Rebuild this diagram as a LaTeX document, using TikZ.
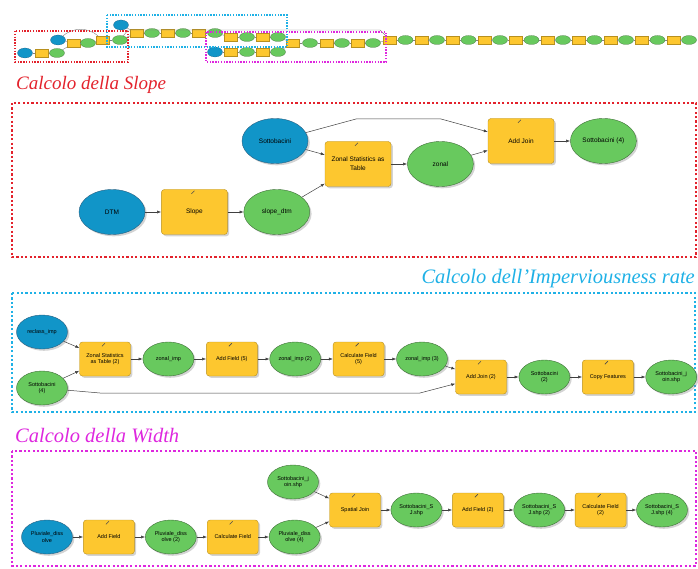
\documentclass[tikz,border=0pt]{standalone}
\usepackage{fontspec}
\usepackage{xcolor}
\usetikzlibrary{shapes.geometric,arrows.meta,positioning,shadows}
\newfontfamily\titlefont{Liberation Serif}
\newfontfamily\boxfont{Liberation Sans}
\definecolor{toolyellow}{HTML}{FDC72F}
\definecolor{tooledge}{HTML}{B8901E}
\definecolor{datagreen}{HTML}{68C95E}
\definecolor{dataedge}{HTML}{3F6E38}
\definecolor{inputblue}{HTML}{1195C8}
\definecolor{inputedge}{HTML}{2A5F80}
\definecolor{slopered}{HTML}{E3222C}
\definecolor{impcyan}{HTML}{1FB1E6}
\definecolor{widthmag}{HTML}{DE27DE}
\definecolor{linkgray}{HTML}{404040}

\begin{document}
\begin{tikzpicture}[x=1pt, y=-1pt, >={Latex[length=4pt,width=3pt]},
    boxshadow/.style={drop shadow={shadow xshift=1.8pt, shadow yshift=-1.8pt, opacity=0.35}},
    tool/.style={rectangle, draw=tooledge, fill=toolyellow, rounded corners=3pt, align=center, inner sep=1pt, boxshadow},
    data/.style={ellipse, draw=dataedge, fill=datagreen, align=center, inner sep=0pt, boxshadow},
    inputdata/.style={ellipse, draw=inputedge, fill=inputblue, align=center, inner sep=0pt, boxshadow},
    bigbox/.style={minimum width=66pt, minimum height=45pt, font=\boxfont\fontsize{6.5}{9}\selectfont},
    smallbox/.style={minimum width=51pt, minimum height=34pt, font=\boxfont\fontsize{5.5}{6.6}\selectfont},
    flow/.style={->, draw=linkgray, line width=0.5pt},
    icon/.style={draw=gray!60!black, line width=0.6pt},
    groupframe/.style={line width=2.2pt, dash pattern=on 2.2pt off 2.2pt},
    sectiontitle/.style={inner sep=0pt, font=\titlefont\itshape\fontsize{20.5}{24}\selectfont},
    minitool/.style={rectangle, fill=toolyellow, draw=tooledge, line width=0.2pt, minimum width=13pt, minimum height=8pt, inner sep=0pt},
    minidata/.style={ellipse, fill=datagreen, draw=dataedge, line width=0.2pt, minimum width=15pt, minimum height=9pt, inner sep=0pt},
    miniinput/.style={ellipse, fill=inputblue, draw=inputedge, line width=0.2pt, minimum width=15pt, minimum height=10pt, inner sep=0pt},
    minilink/.style={draw=gray, line width=0.4pt},
    miniframe/.style={line width=1.4pt, dash pattern=on 1.4pt off 1.4pt}]
    \useasboundingbox (0,0) rectangle (698,569);

    % overview of the whole model
    \node[miniinput] (m1) at (25,53) {};
    \node[minitool] (m2) at (42,53) {};
    \node[minidata] (m3) at (57,53) {};
    \node[miniinput] (m4) at (58,40) {};
    \node[minitool] (m5) at (74,43) {};
    \node[minidata] (m6) at (88,43) {};
    \node[minitool] (m7) at (103,40) {};
    \node[minidata] (m8) at (120,40) {};
    \node[miniinput] (m9) at (121,25) {};
    \node[minitool] (m10) at (137,33) {};
    \node[minidata] (m11) at (152,33) {};
    \node[minitool] (m12) at (168,33) {};
    \node[minidata] (m13) at (183,33) {};
    \node[minitool] (m14) at (199,33) {};
    \node[minidata] (m15) at (215,33) {};
    \node[minitool] (m16) at (231,37) {};
    \node[minidata] (m17) at (247,37) {};
    \node[minitool] (m18) at (263,37) {};
    \node[minidata] (m19) at (278,37) {};
    \node[miniinput] (m20) at (215,52) {};
    \node[minitool] (m21) at (231,52) {};
    \node[minidata] (m22) at (247,52) {};
    \node[minitool] (m23) at (263,52) {};
    \node[minidata] (m24) at (278,52) {};
    \node[minitool] (m25) at (293,43) {};
    \node[minidata] (m26) at (310,43) {};
    \node[minitool] (m27) at (327,43) {};
    \node[minidata] (m28) at (342,43) {};
    \node[minitool] (m29) at (358,43) {};
    \node[minidata] (m30) at (373,43) {};
    \foreach \i in {0,...,9} {
        \node[minitool] (r\i) at ({390+31.5*\i},40) {};
        \node[minidata] (g\i) at ({405.5+31.5*\i},40) {};
        \draw[minilink] (r\i) -- (g\i);
    }
    \foreach \i [count=\j] in {0,...,8}
        \draw[minilink] (g\i) -- (r\j);
    \foreach \a/\b in {m1/m2, m2/m3, m3/m5, m4/m5, m5/m6, m6/m7, m7/m8, m9/m10, m8/m10,
        m10/m11, m11/m12, m12/m13, m13/m14, m14/m15, m15/m16, m16/m17, m17/m18, m18/m19,
        m20/m21, m21/m22, m22/m23, m23/m24, m24/m25, m19/m25, m25/m26, m26/m27, m27/m28,
        m28/m29, m29/m30, m30/r0}
        \draw[minilink] (\a) -- (\b);
    \draw[minilink] (m4) to[out=40, in=140] (m7);
    \coordinate (mA) at (128,30);
    \coordinate (mB) at (380,30);
    \draw[minilink] (m8) -- (mA) -- (mB) -- (r0);
    \draw[slopered, miniframe] (15,31) rectangle (128,62);
    \draw[impcyan, miniframe] (107,15) rectangle (287,47);
    \draw[widthmag, miniframe] (206,32) rectangle (386,62);

    % Calcolo della Slope
    \node[sectiontitle, text=slopered, anchor=base west, font=\titlefont\itshape\fontsize{19}{22}\selectfont] (titleslope) at (16,90) {Calcolo della Slope};
    \draw[slopered, groupframe] (12,103) rectangle (696,257);
    \node[inputdata, bigbox] (dtm) at (112,212) {DTM};
    \node[tool, bigbox, right=16pt of dtm] (slope) {Slope};
    \node[data, bigbox, right=16pt of slope] (slopedtm) {slope\_dtm};
    \node[inputdata, bigbox] (sott) at (275,141) {Sottobacini};
    \node[tool, bigbox] (zonalst) at (358,164) {Zonal Statistics as\\Table};
    \node[data, bigbox, right=16pt of zonalst] (zonal) {zonal};
    \node[tool, bigbox] (addjoin) at (521,141) {Add Join};
    \node[data, bigbox, right=16pt of addjoin] (sott4) {Sottobacini (4)};
    \coordinate (bendA) at (356,119);
    \coordinate (bendB) at (441,119);
    \draw[flow] (dtm) -- (slope);
    \draw[flow] (slope) -- (slopedtm);
    \draw[flow] (slopedtm) -- (zonalst);
    \draw[flow] (sott) -- (zonalst);
    \draw[flow] (zonalst) -- (zonal);
    \draw[flow] (zonal) -- (addjoin);
    \draw[flow] (sott) -- (bendA) -- (bendB) -- (addjoin);
    \draw[flow] (addjoin) -- (sott4);

    % Calcolo dell'Imperviousness rate
    \node[sectiontitle, text=impcyan, anchor=base east] (titleimp) at (695,283) {Calcolo dell’Imperviousness rate};
    \draw[impcyan, groupframe] (12,293) rectangle (695,412);
    \node[inputdata, smallbox] (reclass) at (42,332) {reclass\_imp};
    \node[data, smallbox] (sotb4) at (42,388) {Sottobacini\\(4)};
    \node[tool, smallbox] (zst2) at (105,359) {Zonal Statistics\\as Table (2)};
    \node[data, smallbox, right=12pt of zst2] (zimp) {zonal\_imp};
    \node[tool, smallbox, right=12pt of zimp] (af5) {Add Field (5)};
    \node[data, smallbox, right=12pt of af5] (zimp2) {zonal\_imp (2)};
    \node[tool, smallbox, right=12pt of zimp2] (cf5) {Calculate Field\\(5)};
    \node[data, smallbox, right=12pt of cf5] (zimp3) {zonal\_imp (3)};
    \node[tool, smallbox] (aj2) at (481,377) {Add Join (2)};
    \node[data, smallbox, right=12pt of aj2] (sotb2) {Sottobacini\\(2)};
    \node[tool, smallbox, right=12pt of sotb2] (copyf) {Copy Features};
    \node[data, smallbox, right=12pt of copyf] (sjoin) {Sottobacini\_j\\oin.shp};
    \coordinate (lowA) at (100,393);
    \coordinate (lowB) at (420,393);
    \draw[flow] (reclass) -- (zst2);
    \draw[flow] (sotb4) -- (zst2);
    \draw[flow] (zst2) -- (zimp);
    \draw[flow] (zimp) -- (af5);
    \draw[flow] (af5) -- (zimp2);
    \draw[flow] (zimp2) -- (cf5);
    \draw[flow] (cf5) -- (zimp3);
    \draw[flow] (zimp3) -- (aj2);
    \draw[flow] (sotb4) -- (lowA) -- (lowB) -- (aj2);
    \draw[flow] (aj2) -- (sotb2);
    \draw[flow] (sotb2) -- (copyf);
    \draw[flow] (copyf) -- (sjoin);

    % Calcolo della Width
    \node[sectiontitle, text=widthmag, anchor=base west] (titlewidth) at (15,442) {Calcolo della Width};
    \draw[widthmag, groupframe] (12,451) rectangle (696,566);
    \node[inputdata, smallbox] (pluv) at (47,537) {Pluviale\_diss\\olve};
    \node[tool, smallbox, right=10.5pt of pluv] (af) {Add Field};
    \node[data, smallbox, right=10.5pt of af] (pluv2) {Pluviale\_diss\\olve (2)};
    \node[tool, smallbox, right=10.5pt of pluv2] (cf) {Calculate Field};
    \node[data, smallbox, right=10.5pt of cf] (pluv4) {Pluviale\_diss\\olve (4)};
    \node[data, smallbox] (sjshp) at (293,482) {Sottobacini\_j\\oin.shp};
    \node[tool, smallbox] (spj) at (355,510) {Spatial Join};
    \node[data, smallbox, right=10pt of spj] (sj1) {Sottobacini\_S\\J.shp};
    \node[tool, smallbox, right=10pt of sj1] (af2) {Add Field (2)};
    \node[data, smallbox, right=10pt of af2] (sj2) {Sottobacini\_S\\J.shp (2)};
    \node[tool, smallbox, right=10pt of sj2] (cf2) {Calculate Field\\(2)};
    \node[data, smallbox, right=10pt of cf2] (sj4) {Sottobacini\_S\\J.shp (4)};
    \draw[flow] (pluv) -- (af);
    \draw[flow] (af) -- (pluv2);
    \draw[flow] (pluv2) -- (cf);
    \draw[flow] (cf) -- (pluv4);
    \draw[flow] (pluv4) -- (spj);
    \draw[flow] (sjshp) -- (spj);
    \draw[flow] (spj) -- (sj1);
    \draw[flow] (sj1) -- (af2);
    \draw[flow] (af2) -- (sj2);
    \draw[flow] (sj2) -- (cf2);
    \draw[flow] (cf2) -- (sj4);

    % tool icons
    \foreach \t in {slope, zonalst, addjoin, zst2, af5, cf5, aj2, copyf, af, cf, spj, af2, cf2}
        \draw[icon] ([shift={(-3pt,-4.5pt)}]\t.north) -- ++(3pt,3pt);
\end{tikzpicture}
\end{document}
